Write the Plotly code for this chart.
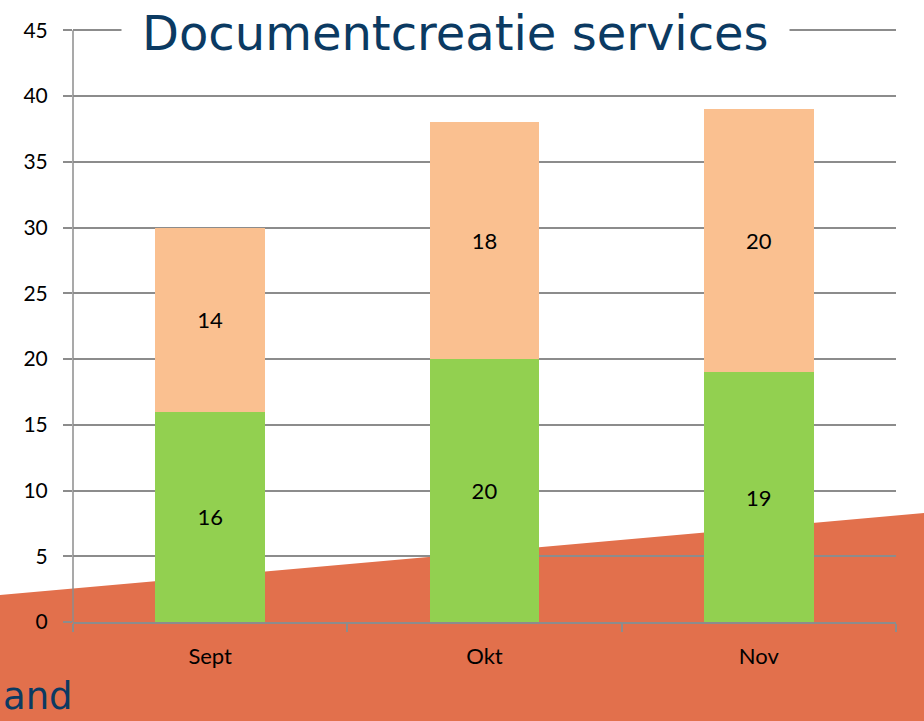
import plotly.graph_objects as go

months = ["Sept", "Okt", "Nov"]
green_vals = [16, 20, 19]
peach_vals = [14, 18, 20]
y_ticks = [0, 5, 10, 15, 20, 25, 30, 35, 40, 45]
title_text = "Documentcreatie services"
footer_text = "and"

W, H = 924, 721
ML, MR, MT, MB = 73, 28, 27, 99
PW, PH = W - ML - MR, H - MT - MB


def px_x(px):
    return (px - ML) / PW


def px_y(py):
    return (H - MB - py) / PH


fig = go.Figure()
fig.add_trace(go.Bar(
    x=months, y=green_vals, marker=dict(color="#92D050", line=dict(width=0)),
    text=green_vals, textposition="inside", insidetextanchor="middle",
    textfont=dict(size=22, color="black", family="Lato"), width=0.4,
))
fig.add_trace(go.Bar(
    x=months, y=peach_vals, marker=dict(color="#FAC090", line=dict(width=0)),
    text=peach_vals, textposition="inside", insidetextanchor="middle",
    textfont=dict(size=22, color="black", family="Lato"), width=0.4,
))

# orange background band
x0, x1 = px_x(0), px_x(W)
fig.add_shape(
    type="path", xref="paper", yref="paper", layer="below",
    path=f"M {x0} {px_y(595)} L {x1} {px_y(513)} L {x1} {px_y(H)} L {x0} {px_y(H)} Z",
    fillcolor="#E2704C", line=dict(width=0),
)
# y axis line (stops at top tick)
fig.add_shape(
    type="line", xref="paper", yref="y", x0=0, x1=0, y0=0, y1=y_ticks[-1],
    line=dict(color="#8C8C8C", width=1.5), layer="below",
)

fig.add_annotation(
    text=title_text, xref="paper", yref="paper", x=px_x(455), y=px_y(33),
    xanchor="center", yanchor="middle", showarrow=False,
    font=dict(family="DejaVu Sans", size=48, color="#0B3A62"),
    bgcolor="white", borderpad=20,
)
fig.add_annotation(
    text=footer_text, xref="paper", yref="paper", x=px_x(1), y=px_y(696),
    xanchor="left", yanchor="middle", showarrow=False,
    font=dict(family="DejaVu Sans", size=37, color="#0B3A62"),
)

fig.update_layout(
    barmode="stack", width=W, height=H,
    margin=dict(l=ML, r=MR, t=MT, b=MB, pad=0),
    paper_bgcolor="white", plot_bgcolor="rgba(0,0,0,0)",
    showlegend=False,
    font=dict(family="Lato", size=22, color="black"),
)
fig.update_yaxes(
    range=[0, 45.25], tickvals=y_ticks, showgrid=True, gridcolor="#8C8C8C", gridwidth=1.5,
    showline=False, ticks="outside", ticklen=9,
    tickcolor="#8C8C8C", tickwidth=1.5, zeroline=False, ticklabelstandoff=11,
    tickfont=dict(size=21, color="black", family="Lato"),
)
fig.update_xaxes(
    showline=True, linecolor="#8C8C8C", linewidth=1.5, ticks="outside", ticklen=8,
    tickcolor="#8C8C8C", tickwidth=1.5, tickson="boundaries", showgrid=False,
    ticklabelstandoff=14, tickfont=dict(size=22, color="black", family="Lato"),
)

fig.write_html("out.html")
